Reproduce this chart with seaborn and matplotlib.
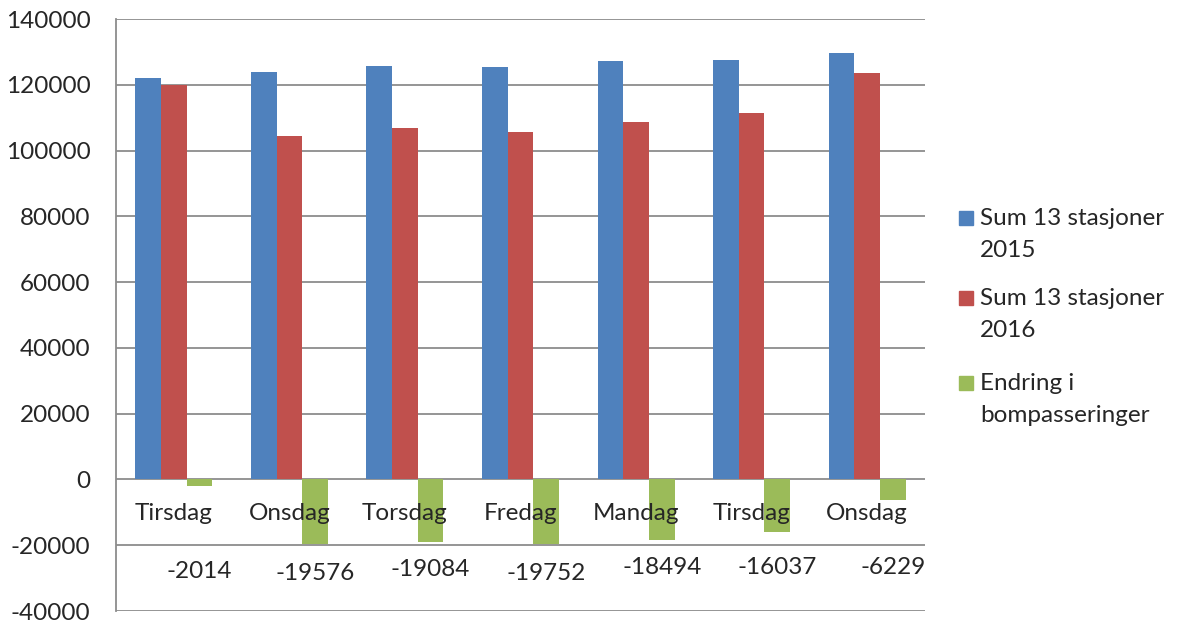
import pandas as pd
import seaborn as sns
import matplotlib.pyplot as plt
from matplotlib.patches import Rectangle

days = ["Tirsdag", "Onsdag", "Torsdag", "Fredag", "Mandag", "Tirsdag", "Onsdag"]
sum_2015 = [122000, 124000, 125800, 125500, 127300, 127400, 129800]
endring = [-2014, -19576, -19084, -19752, -18494, -16037, -6229]
sum_2016 = [a + b for a, b in zip(sum_2015, endring)]
series = ["Sum 13 stasjoner\n2015", "Sum 13 stasjoner\n2016", "Endring i\nbompasseringer"]
colors = ["#4F81BD", "#C0504D", "#9BBB59"]

# label heights for the change values (placed by hand in the original)
label_y = [-28100, -28500, -27500, -28500, -26900, -26900, -26900]

rows = []
for i in range(len(days)):
    rows.append({"pos": i, "serie": series[0], "value": sum_2015[i]})
    rows.append({"pos": i, "serie": series[1], "value": sum_2016[i]})
    rows.append({"pos": i, "serie": series[2], "value": endring[i]})
df = pd.DataFrame(rows)

sns.set_style("white")
plt.rcParams['font.family'] = ['Lato', 'DejaVu Sans']
fs = 17.5

fig = plt.figure(figsize=(11.77, 6.23), dpi=100)
ax = fig.add_axes([116 / 1177, 1 - 611 / 623, (925 - 116) / 1177, (611 - 19) / 623])

sns.barplot(data=df, x="pos", y="value", hue="serie", palette=colors, width=0.667,
            saturation=1, linewidth=0, legend=False, ax=ax, zorder=2)

ax.set_ylim(-40000, 140000)
ax.set_xlim(-0.5, len(days) - 0.5)
ax.set_yticks(range(-40000, 140001, 20000))
ax.set_yticklabels([str(v) for v in range(-40000, 140001, 20000)], fontsize=fs)
ax.tick_params(axis="y", length=0, pad=18.5)
ax.set_xticks([])
ax.set_xlabel("")
ax.set_ylabel("")
ax.grid(axis="y", color="#8C8C8C", linewidth=1.3, zorder=0)
ax.set_axisbelow(True)
for s in ["top", "right", "bottom"]:
    ax.spines[s].set_visible(False)
ax.spines["left"].set_color("#8C8C8C")
ax.spines["left"].set_linewidth(1.3)

for i, d in enumerate(days):
    ax.text(i, -10300, d, ha="center", va="center", fontsize=fs, zorder=5)

for i, v in enumerate(endring):
    ax.text(i + 0.222, label_y[i], str(v), ha="center", va="center", fontsize=fs, zorder=5)

# legend
tops = [218, 298, 383]
for t, lab, c in zip(tops, series, colors):
    fig.patches.append(Rectangle((959 / 1177, 1 - (t + 7) / 623), 14 / 1177, 14 / 623,
                                 transform=fig.transFigure, color=c, figure=fig))
    fig.text(980 / 1177, 1 - (t - 10) / 623, lab, ha="left", va="top", fontsize=fs,
             linespacing=1.65)

fig.savefig("out.png", dpi=100)
